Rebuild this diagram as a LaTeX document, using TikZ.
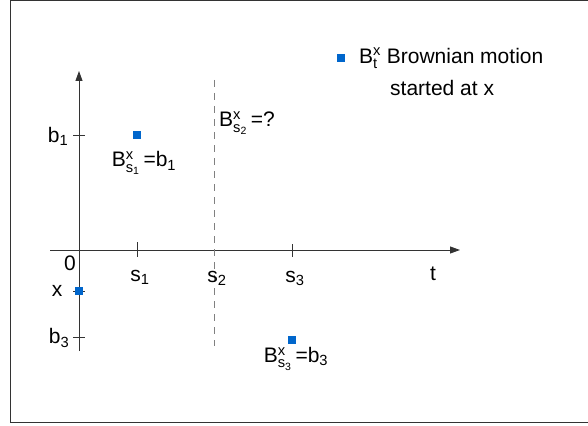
\documentclass[tikz,border=0pt]{standalone}
\usepackage{fontspec}
\setmainfont{Liberation Sans}
\usepackage{tikz}
\usetikzlibrary{positioning,arrows.meta}
\definecolor{ptblue}{HTML}{0066CC}
\definecolor{axisgray}{HTML}{333333}
\tikzset{
  lbl/.style={inner sep=0pt, font=\fontsize{21}{25}\selectfont},
  pt/.style={fill=ptblue, draw=none, minimum size=8pt, inner sep=0pt},
  axis/.style={draw=axisgray, line width=0.9pt, -{Triangle[length=10pt,width=7pt]}},
  tick/.style={draw=axisgray, line width=0.6pt}
}

\begin{document}
\begin{tikzpicture}[x=1pt,y=-1pt]
\useasboundingbox (0,0) rectangle (588,425);
\draw[draw=axisgray, line width=1pt] (700,0.8) -- (10.5,0.8) -- (10.5,422) -- (700,422);
\coordinate (o) at (79,250);
\coordinate (xstart) at (50,250);
\coordinate (xend) at (460,250);
\coordinate (ystart) at (79,351);
\coordinate (yend) at (79,71);
\draw[axis] (xstart) -- (xend);
\draw[axis] (ystart) -- (yend);
\draw[tick] (73,135) -- (85,135);
\draw[tick] (73,291) -- (85,291);
\draw[tick] (73,337) -- (85,337);
\draw[tick] (137,242) -- (137,257);
\draw[tick] (292,244) -- (292,257);
\draw[draw=gray, line width=0.8pt, dash pattern=on 7pt off 6pt] (214,80) -- (214,346);
\node[lbl] (zero) at (70,263) {0};
\node[lbl] (s1) at (140,277) {s$_{\mathrm{1}}$};
\node[lbl] (s2) at (217,278) {s$_{\mathrm{2}}$};
\node[lbl] (s3) at (295,278) {s$_{\mathrm{3}}$};
\node[lbl] (t) at (433,274) {t};
\node[lbl] (b1) at (58,136) {b$_{\mathrm{1}}$};
\node[lbl] (x) at (57,291) {x};
\node[lbl] (b3) at (59,338) {b$_{\mathrm{3}}$};
\node[pt] (p0) at (79,291) {};
\node[pt] (p1) at (137,135) {};
\node[pt] (p3) at (292,340) {};
\node[pt] (leg) at (341,58) {};
\node[lbl] (lab1) at (144,163) {B$^{\mathrm{x}}_{\mathrm{s}_{\mathrm{1}}}$\,=b$_{\mathrm{1}}$};
\node[lbl] (lab2) at (247,123) {B$^{\mathrm{x}}_{\mathrm{s}_{\mathrm{2}}}$\,=?};
\node[lbl] (lab3) at (296,359) {B$^{\mathrm{x}}_{\mathrm{s}_{\mathrm{3}}}$\,=b$_{\mathrm{3}}$};
\node[lbl, anchor=west] (leg1) at (359,58) {B$^{\mathrm{x}}_{\mathrm{t}}$ Brownian motion};
\node[lbl, anchor=west] (leg2) at (390,88) {started at x};
\end{tikzpicture}
\end{document}
